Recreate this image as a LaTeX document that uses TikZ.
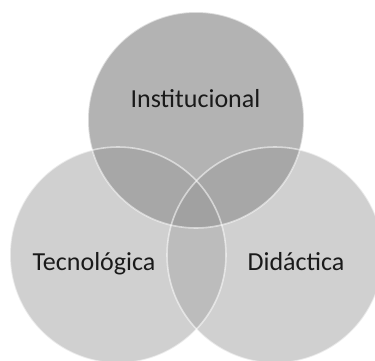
\documentclass[tikz,border=0pt]{standalone}
\usepackage{fontspec}
\setmainfont{Carlito}
\definecolor{cSingleB}{HTML}{D0D0D0}
\definecolor{cSingleT}{HTML}{B3B3B3}
\definecolor{cBB}{HTML}{BCBCBC}
\definecolor{cTB}{HTML}{A7A7A7}
\definecolor{cTri}{HTML}{A1A1A1}
\definecolor{txt}{HTML}{1A1A1A}
\tikzset{
  lbl/.style={font=\fontsize{26}{31}\selectfont, text=txt, anchor=base, inner sep=0pt},
  rim/.style={draw=white, draw opacity=0.55, line width=1.6pt}
}
\begin{document}
\begin{tikzpicture}[x=1pt,y=1pt]
\clip (0,0) rectangle (375,360);
\useasboundingbox (0,0) rectangle (375,360);
\coordinate (T) at (196,240);
\coordinate (L) at (118,105);
\coordinate (R) at (275,105);
\def\rad{108}
% bottom circles
\fill[cSingleB] (L) circle[radius=\rad];
\fill[cSingleB] (R) circle[radius=\rad];
\begin{scope}
  \clip (L) circle[radius=\rad];
  \fill[cBB] (R) circle[radius=\rad];
\end{scope}
% top circle
\fill[cSingleT] (T) circle[radius=\rad];
\begin{scope}
  \clip (T) circle[radius=\rad];
  \fill[cTB] (L) circle[radius=\rad];
  \fill[cTB] (R) circle[radius=\rad];
  \clip (L) circle[radius=\rad];
  \fill[cTri] (R) circle[radius=\rad];
\end{scope}
% rims
\draw[rim] (L) circle[radius=\rad];
\draw[rim] (R) circle[radius=\rad];
\draw[rim] (T) circle[radius=\rad];
% labels
\node[lbl] (inst) at (195.5,253) {Institucional};
\node[lbl] (tec) at (94,90) {Tecnológica};
\node[lbl] (did) at (296,90) {Didáctica};
\end{tikzpicture}
\end{document}
